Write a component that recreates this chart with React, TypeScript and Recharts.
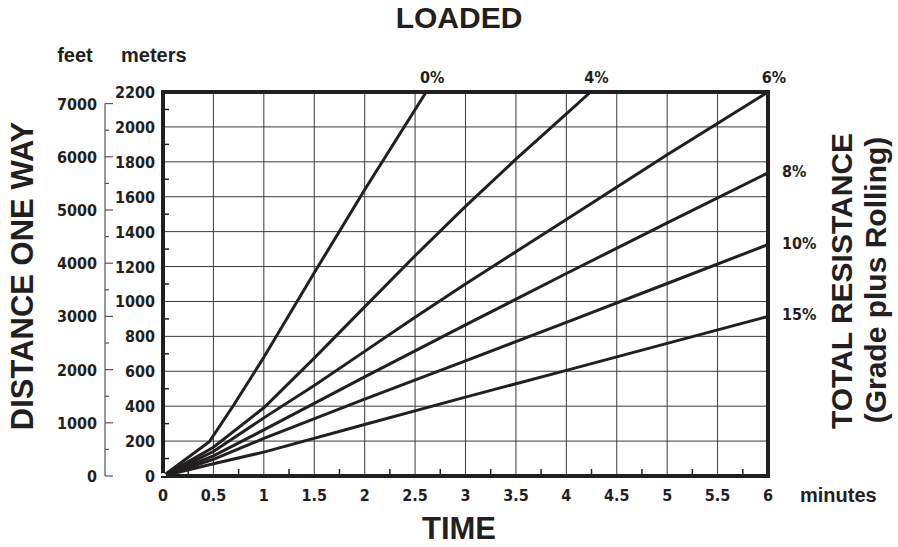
import { LineChart, Line, XAxis, YAxis, CartesianGrid, ReferenceArea, LabelList } from 'recharts';

const INK = '#231f20';
const WIDE = '"Liberation Sans", Arial, Helvetica, sans-serif';
const NARROW = '"Liberation Sans Narrow", "DejaVu Sans Condensed", "Liberation Sans", sans-serif';

// axis ticks
const timeTicks = [0, 0.25, 0.5, 0.75, 1, 1.25, 1.5, 1.75, 2, 2.25, 2.5, 2.75, 3, 3.25, 3.5, 3.75, 4, 4.25, 4.5, 4.75, 5, 5.25, 5.5, 5.75, 6];
const timeGrid = [0.5, 1, 1.5, 2, 2.5, 3, 3.5, 4, 4.5, 5, 5.5];
const meterTicks = [0, 100, 200, 300, 400, 500, 600, 700, 800, 900, 1000, 1100, 1200, 1300, 1400, 1500, 1600, 1700, 1800, 1900, 2000, 2100, 2200];
const meterGrid = [200, 400, 600, 800, 1000, 1200, 1400, 1600, 1800, 2000];
const feetTicks = [0, 500, 1000, 1500, 2000, 2500, 3000, 3500, 4000, 4500, 5000, 5500, 6000, 6500, 7000];
const FEET_TOP = 2200 / 0.3048;

// distance (m) against time (min), one curve per total resistance
const grade0 = [[0, 0], [0.46, 197], [0.7, 405], [1, 680], [1.5, 1164], [2, 1640], [2.61, 2200]];
const grade4 = [[0, 0], [0.5, 165], [1, 391], [1.5, 675], [2, 969], [2.5, 1262], [3, 1545], [3.5, 1815], [4, 2075], [4.24, 2200]];
const grade6 = [[0, 0], [0.5, 140], [1, 333], [1.5, 519], [2, 714], [2.5, 910], [3, 1100], [4, 1470], [5, 1840], [6, 2200]];
const grade8 = [[0, 0], [0.5, 115], [1, 264], [2, 568], [3, 866], [4, 1160], [5, 1450], [6, 1737]];
const grade10 = [[0, 0], [0.5, 95], [1, 215], [2, 440], [3, 660], [4, 880], [5, 1103], [6, 1326]];
const grade15 = [[0, 0], [0.5, 70], [1, 137], [2, 295], [3, 452], [4, 605], [5, 760], [6, 914]];

const series = [
  { name: '0%', points: grade0, top: true },
  { name: '4%', points: grade4, top: true },
  { name: '6%', points: grade6, top: true },
  { name: '8%', points: grade8, top: false },
  { name: '10%', points: grade10, top: false },
  { name: '15%', points: grade15, top: false },
];

const W = 898;
const H = 547;
const PLOT_BOTTOM = 476;

// eslint-disable-next-line @typescript-eslint/no-explicit-any
const TimeTick = ({ x, y, payload }: any) => {
  const v = payload.value;
  if (v % 0.5 !== 0) {
    return <line x1={x} y1={y - 2} x2={x} y2={y - 7} stroke={INK} strokeWidth={1.5} />;
  }
  return (
    <text x={x} y={y + 25} textAnchor="middle" fontFamily={NARROW} fontWeight="bold" fontSize={16} fill={INK}>
      {String(v)}
    </text>
  );
};

// eslint-disable-next-line @typescript-eslint/no-explicit-any
const MeterTick = ({ x, y, payload }: any) => {
  const v = payload.value;
  if (v % 200 !== 0) {
    return <line x1={x + 2} y1={y} x2={x + 6} y2={y} stroke={INK} strokeWidth={1.5} />;
  }
  return (
    <text x={x - 8} y={y + 6} textAnchor="end" fontFamily={NARROW} fontWeight="bold" fontSize={16} fill={INK}>
      {String(v)}
    </text>
  );
};

// eslint-disable-next-line @typescript-eslint/no-explicit-any
const FeetTick = ({ x, y, payload }: any) => {
  const v = payload.value;
  const major = v % 1000 === 0;
  return (
    <g>
      {v === 7000 && <line x1={x} y1={y} x2={x} y2={PLOT_BOTTOM} stroke="#555" strokeWidth={1.2} />}
      <line x1={x} y1={y} x2={x + (major ? 8 : 4)} y2={y} stroke="#555" strokeWidth={1.2} />
      {major && (
        <text x={x - 8} y={y + 6} textAnchor="end" fontFamily={NARROW} fontWeight="bold" fontSize={16} fill={INK}>
          {String(v)}
        </text>
      )}
    </g>
  );
};

const endLabel = (name: string, top: boolean, last: number) =>
  // eslint-disable-next-line @typescript-eslint/no-explicit-any
  (props: any) => {
    const { x, y, index } = props;
    if (index !== last) return null;
    return top ? (
      <text x={x + 6} y={y - 9} textAnchor="middle" fontFamily={NARROW} fontWeight="bold" fontSize={16} fill={INK}>
        {name}
      </text>
    ) : (
      <text x={x + 14} y={y + 4} textAnchor="start" fontFamily={NARROW} fontWeight="bold" fontSize={16} fill={INK}>
        {name}
      </text>
    );
  };

export default function App() {
  return (
    <div style={{ position: 'absolute', left: 0, top: 0, width: W, height: H, background: '#fff' }}>
      <LineChart width={W} height={H} margin={{ top: 92, right: 130, left: 45, bottom: 41 }}>
        <CartesianGrid
          yAxisId="a_m"
          horizontalValues={meterGrid}
          verticalValues={timeGrid}
          stroke="#3a3a3a"
          strokeWidth={1}
        />
        <XAxis
          type="number"
          dataKey="t"
          domain={[0, 6]}
          ticks={timeTicks}
          interval={0}
          axisLine={false}
          tickLine={false}
          tickSize={0}
          tickMargin={0}
          height={30}
          tick={<TimeTick />}
        />
        <YAxis
          yAxisId="a_m"
          type="number"
          domain={[0, 2200]}
          ticks={meterTicks}
          interval={0}
          axisLine={false}
          tickLine={false}
          tickSize={0}
          tickMargin={0}
          width={58}
          tick={<MeterTick />}
        />
        <YAxis
          yAxisId="b_ft"
          type="number"
          domain={[0, FEET_TOP]}
          ticks={feetTicks}
          interval={0}
          allowDataOverflow
          axisLine={false}
          tickLine={false}
          tickSize={0}
          tickMargin={0}
          width={60}
          tick={<FeetTick />}
        />
        {/* invisible series so the feet axis is bound to something */}
        <Line
          yAxisId="b_ft"
          data={[{ t: 0, d: 0 }]}
          dataKey="d"
          stroke="none"
          dot={false}
          legendType="none"
          isAnimationActive={false}
        />
        {series.map((s) => (
          <Line
            key={s.name}
            yAxisId="a_m"
            data={s.points.map(([t, d]) => ({ t, d }))}
            dataKey="d"
            type="linear"
            stroke={INK}
            strokeWidth={3}
            dot={false}
            isAnimationActive={false}
          >
            <LabelList dataKey="d" content={endLabel(s.name, s.top, s.points.length - 1)} />
          </Line>
        ))}
        <ReferenceArea yAxisId="a_m" x1={0} x2={6} y1={0} y2={2200} fill="none" stroke={INK} strokeWidth={4} />
      </LineChart>
      <svg width={W} height={H} style={{ position: 'absolute', left: 0, top: 0, pointerEvents: 'none' }}>
        <text x={459} y={28} textAnchor="middle" fontFamily={WIDE} fontWeight="bold" fontSize={30} fill={INK}>
          LOADED
        </text>
        <text x={459} y={539} textAnchor="middle" fontFamily={WIDE} fontWeight="bold" fontSize={31} fill={INK}>
          TIME
        </text>
        <text x={75} y={62} textAnchor="middle" fontFamily={WIDE} fontWeight="bold" fontSize={20} fill={INK}>
          feet
        </text>
        <text x={121} y={62} textAnchor="start" fontFamily={WIDE} fontWeight="bold" fontSize={20} fill={INK}>
          meters
        </text>
        <text x={800} y={502} textAnchor="start" fontFamily={WIDE} fontWeight="bold" fontSize={20} fill={INK}>
          minutes
        </text>
        <text transform="translate(33,276) rotate(-90)" textAnchor="middle" fontFamily={WIDE} fontWeight="bold" fontSize={31} fill={INK}>
          DISTANCE ONE WAY
        </text>
        <text transform="translate(852,281) rotate(-90)" textAnchor="middle" fontFamily={WIDE} fontWeight="bold" fontSize={30} fill={INK}>
          TOTAL RESISTANCE
        </text>
        <text transform="translate(886,280) rotate(-90)" textAnchor="middle" fontFamily={WIDE} fontWeight="bold" fontSize={30} fill={INK}>
          (Grade plus Rolling)
        </text>
      </svg>
    </div>
  );
}
